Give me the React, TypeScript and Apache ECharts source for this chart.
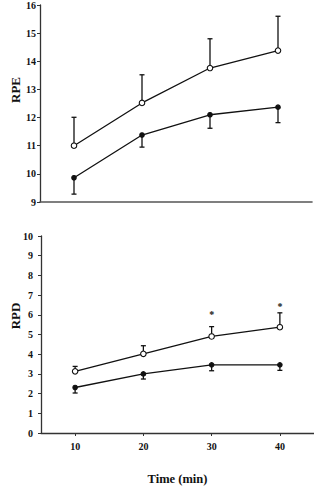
import React, { useEffect, useRef } from "react";
import * as echarts from "echarts";

const times = [10, 20, 30, 40];
const xTicks = [10, 20, 30, 40];

// RPE (top panel)
const rpeOpen = [11.0, 12.52, 13.76, 14.38];
const rpeOpenErrTop = [12.01, 13.52, 14.8, 15.6];
const rpeFilled = [9.86, 11.38, 12.1, 12.37];
const rpeFilledErrBottom = [9.28, 10.95, 11.62, 11.82];

// RPD (bottom panel)
const rpdOpen = [3.13, 4.02, 4.9, 5.37];
const rpdOpenErrTop = [3.38, 4.43, 5.4, 6.1];
const rpdFilled = [2.31, 3.0, 3.46, 3.46];
const rpdFilledErrBottom = [2.03, 2.74, 3.16, 3.18];
const rpdStarTimes = [30, 40];
const rpdStarValues = [6.0, 6.4];

const FONT = "Liberation Serif";

function pairs(xs: number[], ys: number[]) {
  return xs.map((x, i) => [x, ys[i]]);
}
function errData(xs: number[], ys: number[], ends: number[]) {
  return xs.map((x, i) => [x, ys[i], ends[i]]);
}

function errorRender(params: any, api: any) {
  const x = api.value(0);
  const p0 = api.coord([x, api.value(1)]);
  const p1 = api.coord([x, api.value(2)]);
  const hw = 2.5;
  const style = { stroke: "#111", lineWidth: 1.3 };
  return {
    type: "group",
    children: [
      { type: "line", shape: { x1: p0[0], y1: p0[1], x2: p1[0], y2: p1[1] }, style },
      { type: "line", shape: { x1: p1[0] - hw, y1: p1[1], x2: p1[0] + hw, y2: p1[1] }, style },
    ],
  };
}

export default function App() {
  const ref = useRef<HTMLDivElement>(null);
  useEffect(() => {
    document.body.style.margin = "0";
    const chart = echarts.init(ref.current!, null, { renderer: "svg" });
    const axisLine = { show: true, lineStyle: { color: "#333", width: 1.3 } };
    const tickLabel = { color: "#111", fontFamily: FONT, fontWeight: "bold", fontSize: 10 };
    const lineSeries = (xi: number, data: number[], open: boolean) => ({
      type: "line",
      xAxisIndex: xi,
      yAxisIndex: xi,
      data: pairs(times, data),
      symbol: "circle",
      symbolSize: open ? 5.5 : 4.5,
      lineStyle: { color: "#111", width: 1.3 },
      itemStyle: { color: open ? "#fff" : "#111", borderColor: "#111", borderWidth: 1.1 },
      z: 3,
    });
    const errSeries = (xi: number, data: number[], ends: number[]) => ({
      type: "custom",
      xAxisIndex: xi,
      yAxisIndex: xi,
      data: errData(times, data, ends),
      renderItem: errorRender,
      z: 2,
    });
    chart.setOption({
      animation: false,
      grid: [
        { left: 40, top: 5, width: 272, height: 197 },
        { left: 41, top: 236, right: 0, height: 197 },
      ],
      xAxis: [
        {
          type: "value",
          gridIndex: 0,
          min: 5,
          max: 45,
          axisLine: { show: true, lineStyle: { color: "#555", width: 1.6 } },
          axisTick: { show: false },
          axisLabel: { show: false },
          splitLine: { show: false },
        },
        {
          type: "value",
          gridIndex: 1,
          min: 5,
          max: 45,
          axisLine,
          axisTick: { show: true, customValues: xTicks, length: 3, lineStyle: { color: "#333" } },
          axisLabel: { ...tickLabel, customValues: xTicks, margin: 8 },
          splitLine: { show: false },
          name: "Time (min)",
          nameLocation: "middle",
          nameGap: 39,
          nameTextStyle: { color: "#111", fontFamily: FONT, fontWeight: "bold", fontSize: 12.5 },
        },
      ],
      yAxis: [
        {
          type: "value",
          gridIndex: 0,
          min: 9,
          max: 16,
          interval: 1,
          axisLine,
          axisTick: { show: true, inside: false, length: 3, lineStyle: { color: "#333" } },
          axisLabel: { ...tickLabel, margin: 4 },
          splitLine: { show: false },
        },
        {
          type: "value",
          gridIndex: 1,
          min: 0,
          max: 10,
          interval: 1,
          axisLine,
          axisTick: { show: true, inside: false, length: 3, lineStyle: { color: "#333" } },
          axisLabel: { ...tickLabel, margin: 8 },
          splitLine: { show: false },
        },
      ],
      graphic: [
        {
          type: "text",
          x: 15,
          y: 90,
          rotation: Math.PI / 2,
          style: {
            text: "RPE",
            fill: "#111",
            font: `bold 13px "${FONT}"`,
            align: "center",
            verticalAlign: "middle",
          },
        },
        {
          type: "text",
          x: 15,
          y: 316,
          rotation: Math.PI / 2,
          style: {
            text: "RPD",
            fill: "#111",
            font: `bold 13px "${FONT}"`,
            align: "center",
            verticalAlign: "middle",
          },
        },
      ],
      series: [
        errSeries(0, rpeOpen, rpeOpenErrTop),
        errSeries(0, rpeFilled, rpeFilledErrBottom),
        lineSeries(0, rpeOpen, true),
        lineSeries(0, rpeFilled, false),
        errSeries(1, rpdOpen, rpdOpenErrTop),
        errSeries(1, rpdFilled, rpdFilledErrBottom),
        lineSeries(1, rpdOpen, true),
        lineSeries(1, rpdFilled, false),
        {
          type: "scatter",
          xAxisIndex: 1,
          yAxisIndex: 1,
          data: pairs(rpdStarTimes, rpdStarValues),
          symbolSize: 0,
          itemStyle: { opacity: 1, color: "#111" },
          label: {
            show: true,
            position: "inside",
            formatter: "*",
            color: "#111",
            opacity: 1,
            fontFamily: FONT,
            fontSize: 10,
            fontWeight: "bold",
          },
        },
      ],
    });
    return () => chart.dispose();
  }, []);
  return <div ref={ref} style={{ width: 314, height: 486 }} />;
}
